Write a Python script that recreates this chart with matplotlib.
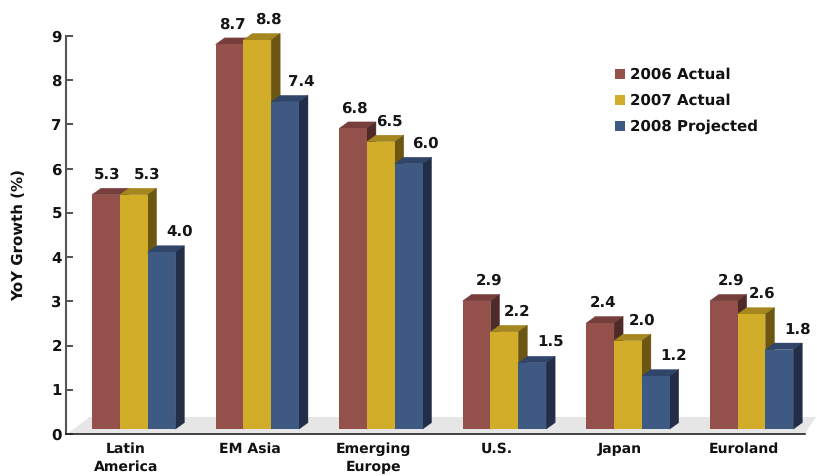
import numpy as np
import matplotlib
matplotlib.use("Agg")
import matplotlib.pyplot as plt
from matplotlib.patches import Polygon

plt.rcParams["text.hinting"] = "no_hinting"
plt.rcParams["text.hinting_factor"] = 1

regions = ["Latin\nAmerica", "EM Asia", "Emerging\nEurope", "U.S.", "Japan", "Euroland"]
actual_2006 = [5.3, 8.7, 6.8, 2.9, 2.4, 2.9]
actual_2007 = [5.3, 8.8, 6.5, 2.2, 2.0, 2.6]
projected_2008 = [4.0, 7.4, 6.0, 1.5, 1.2, 1.8]
series_names = ["2006 Actual", "2007 Actual", "2008 Projected"]
y_ticks = [0, 1, 2, 3, 4, 5, 6, 7, 8, 9]

# front, top and side face colours for each series
front_colors = ["#94504A", "#D2AD2A", "#3F5A82"]
top_colors = ["#763F3B", "#A5861F", "#30456A"]
side_colors = ["#4E2A28", "#6B5612", "#222D47"]

# sideways nudge of each value label, in pixels from the bar centre
label_nudge = [
    [1, 3, 1, 13, 3, 7],
    [13, 11, 9, 13, 14, 11],
    [18, 16, 17, 18, 18, 18],
]

BAR_W = 0.225
DEPTH_X = 0.073
DEPTH_Y = 0.147
LIFT = 0.11


def draw_bar(ax, x, value, series):
    bottom = LIFT
    top = value + LIFT
    right = x + BAR_W
    ax.add_patch(Polygon([(x, top), (right, top), (right + DEPTH_X, top + DEPTH_Y), (x + DEPTH_X, top + DEPTH_Y)],
                         facecolor=top_colors[series], edgecolor=top_colors[series], linewidth=0.3,
                         zorder=3 + series, clip_on=False))
    ax.add_patch(Polygon([(right, bottom), (right + DEPTH_X, bottom + DEPTH_Y), (right + DEPTH_X, top + DEPTH_Y), (right, top)],
                         facecolor=side_colors[series], edgecolor=side_colors[series], linewidth=0.3,
                         zorder=3 + series, clip_on=False))
    ax.bar(x, value, BAR_W, bottom=bottom, align="edge", color=front_colors[series],
           linewidth=0, zorder=3 + series, clip_on=False)


def main():
    fig = plt.figure(figsize=(8.17, 4.76), dpi=100)
    ax = fig.add_axes([66 / 817, 42 / 476, 739 / 817, 398 / 476])
    ax.set_xlim(-0.55, 5.43)
    ax.set_ylim(0, 9)

    # pale floor under the bars
    ax.add_patch(Polygon([(-0.53, 0.02), (5.43, 0.02), (5.52, 0.385), (-0.36, 0.385)],
                         facecolor="#E6E6E6", linewidth=0, zorder=1, clip_on=False))

    all_series = [actual_2006, actual_2007, projected_2008]
    group_x = np.arange(len(regions))
    for s, values in enumerate(all_series):
        for g, v in enumerate(values):
            x = group_x[g] - 0.34 + s * BAR_W
            draw_bar(ax, x, v, s)
            ax.annotate(f"{v:.1f}", (x + BAR_W / 2, v + LIFT), xytext=(label_nudge[s][g] * 0.72, 14.5),
                        textcoords="offset points", ha="center", va="center",
                        fontsize=10.8, fontweight="bold", color="#151515", zorder=10)

    ax.set_xticks(group_x - 0.065)
    ax.set_xticklabels(regions, fontsize=10.3, fontweight="bold", color="#111111", linespacing=1.4)
    ax.set_yticks(y_ticks)
    ax.set_yticklabels([str(t) for t in y_ticks], fontsize=10.5, fontweight="bold", color="#111111")
    ax.tick_params(axis="x", length=0, pad=6)
    ax.tick_params(axis="y", direction="in", length=5, width=1.2, color="#333333", pad=3)
    ax.set_ylabel("YoY Growth (%)", fontsize=10.5, fontweight="bold", color="#111111", labelpad=18)

    for side in ["top", "right"]:
        ax.spines[side].set_visible(False)
    ax.spines["left"].set_color("#555555")
    ax.spines["left"].set_linewidth(1.5)
    ax.spines["bottom"].set_color("#222222")
    ax.spines["bottom"].set_linewidth(1.2)

    # legend swatches use the front colours
    handles = [plt.Rectangle((0, 0), 1, 1, facecolor=c, linewidth=0) for c in front_colors]
    ax.legend(handles, series_names, loc="upper left", bbox_to_anchor=(0.743, 0.92), frameon=False,
              prop={"size": 10.5, "weight": "bold"}, handlelength=0.68, handleheight=0.68,
              handletextpad=0.35, labelspacing=0.78, borderpad=0, borderaxespad=0, labelcolor="#111111")

    fig.savefig("out.png", dpi=100)


if __name__ == "__main__":
    main()
